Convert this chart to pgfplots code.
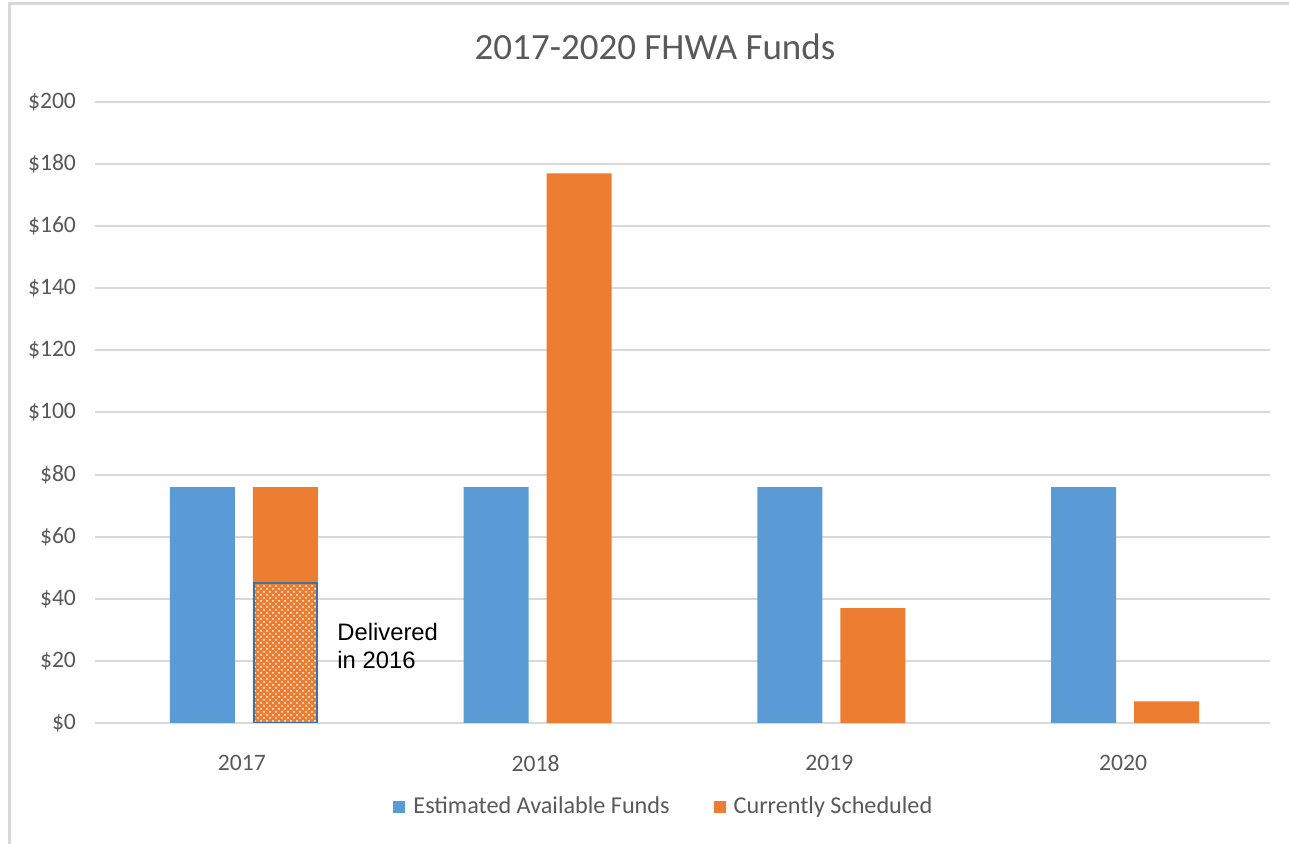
\documentclass[border=0pt]{standalone}
\usepackage{pgfplots}
\pgfplotsset{compat=1.18}
\usepackage{fontspec}
\setmainfont{Carlito}
\newfontfamily\arialf{Liberation Sans}
\usetikzlibrary{patterns}
\definecolor{cblue}{HTML}{5B9BD5}
\definecolor{corange}{HTML}{ED7D31}
\definecolor{cgrid}{HTML}{D9D9D9}
\definecolor{ctext}{HTML}{595959}
\definecolor{cedge}{HTML}{41719C}
\begin{document}
\begin{tikzpicture}
\path[use as bounding box] (0,0) rectangle (644.5pt,422pt);
\draw[cgrid, line width=1.5pt] (4.5pt,0) -- (4.5pt,420pt) -- (644.5pt,420pt);
\node[ctext, font=\fontsize{18.5}{22}\selectfont] at (327.5pt,398.5pt) {2017-2020 FHWA Funds};
\begin{axis}[
  at={(47.5pt,60.5pt)}, anchor=south west,
  scale only axis, width=587.5pt, height=310.5pt,
  xmin=-0.5, xmax=3.5, ymin=0, ymax=200,
  ybar, bar width=32.5pt,
  axis line style={draw=none},
  ymajorgrids, major grid style={cgrid, line width=1pt},
  tick style={draw=none},
  xtick={0,1,2,3}, xticklabels={2017,2018,2019,2020},
  ytick={0,20,...,200},
  yticklabels={\$0,\$20,\$40,\$60,\$80,\$100,\$120,\$140,\$160,\$180,\$200},
  ticklabel style={ctext, font=\fontsize{11.8}{14}\selectfont},
  yticklabel style={xshift=-6pt},
  xticklabel style={yshift=-8.5pt},
  legend style={at={(0.485,-0.135)}, anchor=center, draw=none, fill=none,
    legend columns=2, font=\fontsize{12.1}{14}\selectfont, text=ctext,
    /tikz/every even column/.append style={column sep=20pt}},
  legend image code/.code={\fill[#1] (-2pt,-3pt) rectangle (4pt,3pt); \path (-2pt,0) -- (6pt,0);},
  legend cell align=left,
]
\addplot[fill=cblue, draw=none, bar shift=-19.75pt] coordinates {(0,76) (1,76) (2,76) (3,76)};
\addlegendentry{Estimated Available Funds}
\addplot[fill=corange, draw=none, bar shift=21.75pt] coordinates {(0,76) (1,177) (2,37) (3,7)};
\addlegendentry{Currently Scheduled}
\addplot[fill=corange, draw=cedge, line width=1pt, bar shift=21.75pt, bar width=31.5pt,
  postaction={pattern=crosshatch dots, pattern color=white}, forget plot] coordinates {(0,45)};
\node[anchor=west, align=left, font=\arialf\fontsize{11.9}{14}\selectfont, inner sep=0pt]
  at (axis cs:0.324,24.8) {Delivered\\in 2016};
\end{axis}
\end{tikzpicture}
\end{document}
